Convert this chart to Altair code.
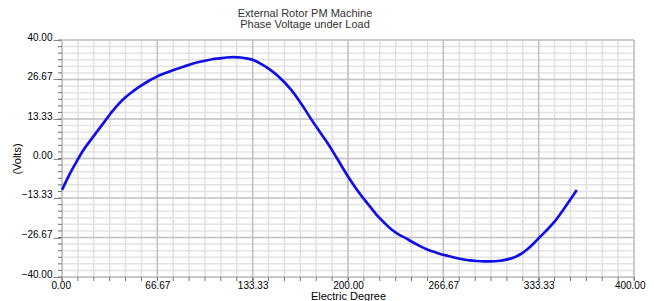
import altair as alt
import pandas as pd

# ---- data ----
deg = list(range(0, 365, 5))
volts = [-10.6, -5.6, -1.2, 2.9, 6.2, 9.4, 12.6, 15.8, 18.6, 20.9,
         22.8, 24.5, 26.0, 27.3, 28.4, 29.3, 30.2, 31.0, 31.8, 32.5,
         33.0, 33.5, 33.8, 34.1, 34.2, 34.1, 33.7, 33.0, 31.7, 30.2,
         28.3, 26.0, 23.3, 20.1, 16.5, 12.7, 9.2, 5.7, 1.9, -2.1,
         -6.1, -9.7, -13.0, -16.0, -19.0, -21.5, -23.8, -25.5, -26.8, -28.2,
         -29.5, -30.6, -31.5, -32.3, -32.9, -33.5, -34.0, -34.4, -34.6, -34.7,
         -34.7, -34.6, -34.2, -33.6, -32.5, -30.8, -28.6, -26.1, -23.7, -21.0,
         -17.7, -14.2, -10.6]

major_x = [0, 66.6667, 133.3333, 200, 266.6667, 333.3333, 400]
major_y = [-40, -26.6667, -13.3333, 0, 13.3333, 26.6667, 40]
minor_x = [i * 400 / 36 for i in range(37)]
minor_y = [-40 + i * 80 / 36 for i in range(37)]

curve = pd.DataFrame({"x": deg, "y": volts})
mx = pd.DataFrame({"x": minor_x})
my = pd.DataFrame({"y": minor_y})
Mx = pd.DataFrame({"x": major_x})
My = pd.DataFrame({"y": major_y})

xs = alt.Scale(domain=[0, 400], nice=False, zero=False)
ys = alt.Scale(domain=[-40, 40], nice=False, zero=False)
xa = alt.Axis(values=major_x, format=".2f", title="Electric Degree",
              grid=False, tickSize=3, labelPadding=0, titleY=13,
              titleBaseline="top", titleFontWeight="normal",
              labelFlush=True, labelFlushOffset=11, labelOverlap=False)
ya = alt.Axis(values=major_y, format=".2f", title="(Volts)",
              grid=False, tickSize=9, labelPadding=1, labelFlush=False,
              labelOverlap=False,
              labelBaseline="alphabetic", titleX=-40, titleFontWeight="normal")
X = alt.X("x:Q", scale=xs, axis=xa)
Y = alt.Y("y:Q", scale=ys, axis=ya)

minor_v = alt.Chart(mx).mark_rule(color="#e0e0e0", strokeWidth=1.5).encode(x=X)
minor_h = alt.Chart(my).mark_rule(color="#e2e2e2", strokeWidth=1.5).encode(y=Y)
major_v = alt.Chart(Mx).mark_rule(color="#c2c2c2", strokeWidth=1.5).encode(x=X)
major_h = alt.Chart(My).mark_rule(color="#c4c4c4", strokeWidth=1.5).encode(y=Y)

tick_x = alt.Chart(mx).mark_rule(color="#707070", strokeWidth=1).encode(
    x=X, y=alt.value(237), y2=alt.value(241))
tick_y = alt.Chart(my).mark_rule(color="#707070", strokeWidth=1).encode(
    y=Y, x=alt.value(-4), x2=alt.value(0))

line = alt.Chart(curve).mark_line(color="#1010e6", strokeWidth=2.7,
                                  interpolate="monotone").encode(x=X, y=Y)

chart = alt.layer(minor_v, minor_h, major_v, major_h, tick_x, tick_y, line).properties(
    width=572, height=237,
    title=alt.TitleParams(["External Rotor PM Machine", "Phase Voltage under Load"],
                          fontSize=11, fontWeight="normal", color="#333333",
                          font="Liberation Sans", lineHeight=11, offset=2,
                          dx=-43, anchor="middle"),
    autosize=alt.AutoSizeParams(type="none"),
    padding={"left": 54, "top": 32, "right": 12, "bottom": 24},
).configure_view(stroke="#a8a8a8", strokeWidth=1.5).configure_axis(
    domainColor="#6e6e6e", domainWidth=2, tickColor="#6e6e6e",
    labelFont="Liberation Sans", labelFontSize=11, labelColor="#333333",
    titleFont="Liberation Sans", titleFontSize=11, titleFontWeight="normal",
    titleColor="#333333",
).configure(background="white")

chart.save("out.html", embed_options={"renderer": "svg", "actions": False})
